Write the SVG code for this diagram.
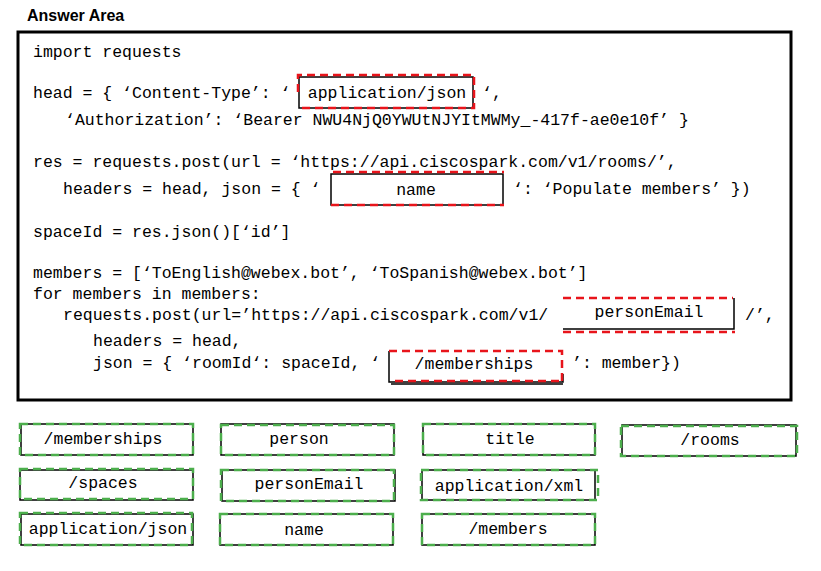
<svg xmlns="http://www.w3.org/2000/svg" width="821" height="571" viewBox="0 0 821 571">
<style>
.title{font-family:"Liberation Sans",Arial,sans-serif;font-weight:bold;font-size:16px;fill:#000}
.code{font-family:"Liberation Mono","Courier New",monospace;font-size:16.5px;fill:#000;white-space:pre}
.lbl{font-family:"Liberation Mono","Courier New",monospace;font-size:16.5px;fill:#000;text-anchor:middle}
.blk{fill:none;stroke:#000;stroke-width:1.5}
.red{fill:none;stroke:#e8141b;stroke-width:2.5;stroke-dasharray:8 5}
.grn{fill:none;stroke:#4cae4c;stroke-width:2.5;stroke-dasharray:8 5}
</style>
<rect width="821" height="571" fill="#fff"/>
<text class="title" x="27" y="21">Answer Area</text>
<g id="answer-area">
<rect x="18" y="32" width="773" height="368" fill="none" stroke="#000" stroke-width="3"/>
<text class="code" x="33" y="57" xml:space="preserve">import requests</text>
<text class="code" x="33" y="98" xml:space="preserve">head = { ‘Content-Type’: ‘</text>
<text class="code" x="482" y="98" xml:space="preserve">‘,</text>
<text class="code" x="65" y="125" xml:space="preserve">‘Authorization’: ‘Bearer NWU4NjQ0YWUtNJYItMWMy_-417f-ae0e10f’ }</text>
<text class="code" x="33" y="167" xml:space="preserve">res = requests.post(url = ‘https://api.ciscospark.com/v1/rooms/’,</text>
<text class="code" x="63" y="194" xml:space="preserve">headers = head, json = { ‘</text>
<text class="code" x="513" y="194" xml:space="preserve">‘: ‘Populate members’ })</text>
<text class="code" x="33" y="237" xml:space="preserve">spaceId = res.json()[‘id’]</text>
<text class="code" x="33" y="278" xml:space="preserve">members = [‘ToEnglish@webex.bot’, ‘ToSpanish@webex.bot’]</text>
<text class="code" x="33" y="299" xml:space="preserve">for members in members:</text>
<text class="code" x="63" y="320" xml:space="preserve">requests.post(url=’https://api.ciscospark.com/v1/</text>
<text class="code" x="745" y="320" xml:space="preserve">/’,</text>
<text class="code" x="93" y="346" xml:space="preserve">headers = head,</text>
<text class="code" x="93" y="368" xml:space="preserve">json = { ‘roomId‘: spaceId, ‘</text>
<text class="code" x="572" y="368" xml:space="preserve">’: member})</text>
</g>
<g id="slot-content-type">
<rect class="blk" x="299" y="77" width="174" height="31"/>
<path class="red" d="M298 92 V75 H474 V108 H300"/>
<text class="lbl" x="387" y="98">application/json</text>
</g>
<g id="slot-name">
<rect class="blk" x="331" y="174" width="172" height="31"/>
<path class="red" d="M333 172 H504 M331 205 H504"/>
<text class="lbl" x="416" y="195">name</text>
</g>
<g id="slot-url">
<path class="blk" d="M563 329 H734 V298"/>
<path class="red" d="M563 298 H733 M563 332 H735"/>
<text class="lbl" x="649" y="317">personEmail</text>
</g>
<g id="slot-key">
<path class="blk" d="M389 351 V382 H563 V374 M391 384 H563"/>
<path class="red" d="M389 351 H562 V382 M395 381 H560"/>
<text class="lbl" x="474" y="369">/memberships</text>
</g>
<g id="opt-memberships">
<rect class="blk" x="21" y="424" width="172" height="31"/>
<rect class="grn" x="20" y="424" width="173" height="31"/>
<text class="lbl" x="103" y="444">/memberships</text>
</g>
<g id="opt-person">
<rect class="blk" x="221" y="424" width="173" height="31"/>
<rect class="grn" x="221" y="425" width="173" height="30"/>
<text class="lbl" x="299" y="444">person</text>
</g>
<g id="opt-title">
<rect class="blk" x="423" y="424" width="172" height="31"/>
<rect class="grn" x="423" y="424" width="172" height="31"/>
<text class="lbl" x="510" y="444">title</text>
</g>
<g id="opt-rooms">
<rect class="blk" x="622" y="425" width="174" height="31"/>
<rect class="grn" x="621" y="426" width="176" height="30"/>
<text class="lbl" x="710" y="445">/rooms</text>
</g>
<g id="opt-spaces">
<rect class="blk" x="20" y="470" width="173" height="30"/>
<rect class="grn" x="20" y="469" width="173" height="30"/>
<text class="lbl" x="103" y="488">/spaces</text>
</g>
<g id="opt-personemail">
<rect class="blk" x="222" y="470" width="173" height="31"/>
<rect class="grn" x="221" y="470" width="173" height="31"/>
<text class="lbl" x="309" y="489">personEmail</text>
</g>
<g id="opt-appxml">
<rect class="blk" x="422" y="470" width="173" height="30"/>
<rect class="grn" x="421" y="470" width="177" height="30"/>
<text class="lbl" x="509" y="491">application/xml</text>
</g>
<g id="opt-appjson">
<rect class="blk" x="21" y="514" width="172" height="31"/>
<rect class="grn" x="20" y="513" width="172" height="32"/>
<text class="lbl" x="108" y="534">application/json</text>
</g>
<g id="opt-name">
<rect class="blk" x="220" y="514" width="173" height="31"/>
<rect class="grn" x="220" y="514" width="173" height="31"/>
<text class="lbl" x="304" y="535">name</text>
</g>
<g id="opt-members">
<rect class="blk" x="422" y="514" width="173" height="31"/>
<rect class="grn" x="422" y="514" width="173" height="31"/>
<text class="lbl" x="508" y="534">/members</text>
</g>
</svg>
